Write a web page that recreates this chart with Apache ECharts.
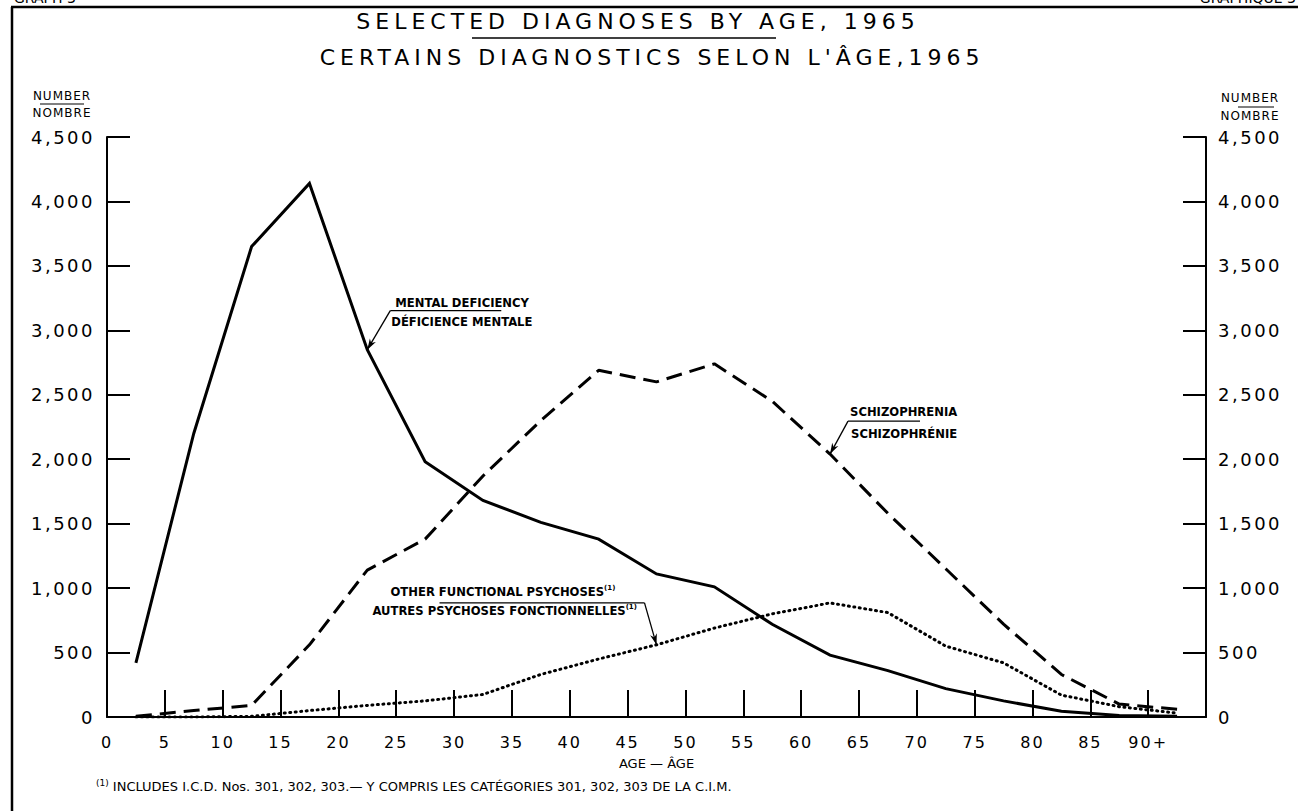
<!DOCTYPE html>
<html><head><meta charset="utf-8">
<script src="https://cdn.jsdelivr.net/npm/echarts@6/dist/echarts.min.js"></script>
<style>html,body{margin:0;padding:0;background:#fff}#c{width:1298px;height:811px}</style>
</head><body><div id="c"></div>
<script>
// ---- data ----
const ages = [2.5, 7.5, 12.5, 17.5, 22.5, 27.5, 32.5, 37.5, 42.5, 47.5, 52.5, 57.5, 62.5, 67.5, 72.5, 77.5, 82.5, 87.5, 92.5];
const mentalDeficiency = [420, 2200, 3650, 4140, 2850, 1980, 1680, 1510, 1380, 1110, 1010, 720, 480, 360, 220, 125, 45, 12, 5];
const schizophrenia = [5, 50, 90, 560, 1140, 1380, 1870, 2300, 2690, 2600, 2740, 2450, 2040, 1580, 1150, 720, 330, 100, 60];
const otherPsychoses = [0, 0, 5, 50, 90, 125, 175, 330, 450, 560, 690, 800, 885, 810, 550, 420, 170, 80, 30];
const xTickValues = [5, 10, 15, 20, 25, 30, 35, 40, 45, 50, 55, 60, 65, 70, 75, 80, 85, 90];
const xLabelValues = [0, 5, 10, 15, 20, 25, 30, 35, 40, 45, 50, 55, 60, 65, 70, 75, 80, 85, 90];
const xLabelText = ['0','5','10','15','20','25','30','35','40','45','50','55','60','65','70','75','80','85','90+'];
const yMin = 0, yMax = 4500, yStep = 500;

const titleLine1 = 'SELECTED DIAGNOSES BY AGE, 1965';
const titleLine2 = "CERTAINS DIAGNOSTICS SELON L'ÂGE,1965";
const labelMD = ['MENTAL DEFICIENCY', 'DÉFICIENCE MENTALE'];
const labelSZ = ['SCHIZOPHRENIA', 'SCHIZOPHRÉNIE'];
const labelOP = ['OTHER FUNCTIONAL PSYCHOSES', 'AUTRES PSYCHOSES FONCTIONNELLES'];
const footnote = ' INCLUDES I.C.D. Nos. 301, 302, 303.— Y COMPRIS LES CATÉGORIES 301, 302, 303 DE LA C.I.M.';

const FONT = 'DejaVu Sans';
const chart = echarts.init(document.getElementById('c'), null, {renderer: 'svg'});

const pair = arr => ages.map((a, i) => [a, arr[i]]);
const yFmt = v => v.toLocaleString('en-US');

const yAxisBase = {
  type: 'value', min: yMin, max: yMax, interval: yStep,
  axisLine: {show: true, lineStyle: {color: '#000', width: 2}},
  axisTick: {show: true, inside: true, length: 23, lineStyle: {color: '#000', width: 2}},
  axisLabel: {formatter: yFmt, color: '#000', fontSize: 18, fontFamily: FONT, margin: 12},
  splitLine: {show: false}
};

chart.setOption({
  animation: false,
  backgroundColor: '#fff',
  grid: {left: 107, right: 92, top: 137, bottom: 94},
  xAxis: {
    type: 'value', min: 0, max: 95, interval: 5,
    axisLine: {lineStyle: {color: '#000', width: 2}},
    axisTick: {show: true, inside: true, length: 27, customValues: xTickValues, lineStyle: {color: '#000', width: 2}},
    axisLabel: {customValues: xLabelValues, formatter: v => xLabelText[xLabelValues.indexOf(v)], color: '#000', fontSize: 16, fontFamily: FONT, margin: 17},
    splitLine: {show: false},
    name: 'AGE — ÂGE', nameLocation: 'middle', nameGap: 40,
    nameTextStyle: {color: '#000', fontSize: 13, fontFamily: FONT}
  },
  yAxis: [
    Object.assign({}, yAxisBase, {position: 'left'}),
    Object.assign({}, yAxisBase, {position: 'right'})
  ],
  series: [
    {name: 'Mental deficiency', type: 'line', data: pair(mentalDeficiency), showSymbol: false, yAxisIndex: 0,
     lineStyle: {color: '#000', width: 3, join: 'miter'}},
    {name: 'Schizophrenia', type: 'line', data: pair(schizophrenia), showSymbol: false, yAxisIndex: 0,
     lineStyle: {color: '#000', width: 3, type: [16, 8]}},
    {name: 'Other functional psychoses', type: 'line', data: pair(otherPsychoses), showSymbol: false, yAxisIndex: 0,
     lineStyle: {color: '#000', width: 3, type: [1, 4.5], cap: 'round'}}
  ]
});

function px(x, y) { return chart.convertToPixel({gridIndex: 0}, [x, y]); }

function arrowHead(tip, from) {
  const dx = tip[0] - from[0], dy = tip[1] - from[1];
  const L = Math.hypot(dx, dy), ux = dx / L, uy = dy / L;
  const nx = -uy, ny = ux, len = 11, hw = 3.5;
  return {type: 'polygon', shape: {points: [
    tip,
    [tip[0] - ux * len + nx * hw, tip[1] - uy * len + ny * hw],
    [tip[0] - ux * len * 0.7, tip[1] - uy * len * 0.7],
    [tip[0] - ux * len - nx * hw, tip[1] - uy * len - ny * hw]
  ]}, style: {fill: '#000'}};
}

function txt(x, y, text, size, align, extra) {
  return {type: 'text', x: x, y: y, style: Object.assign({text: text, fill: '#000', font: size + 'px "' + FONT + '"', align: align || 'left', verticalAlign: 'middle'}, extra || {})};
}
function hline(x1, x2, y, w) {
  return {type: 'line', shape: {x1: x1, y1: y, x2: x2, y2: y}, style: {stroke: '#000', lineWidth: w || 1}};
}

function annotation(tip, dx, dy, lineLeft, lineRight, t1, t2, t1x, t2x, t1dy, t2dy, sup) {
  const start = [tip[0] + dx, tip[1] + dy];
  const els = [];
  els.push({type: 'line', shape: {x1: start[0], y1: start[1], x2: tip[0], y2: tip[1]}, style: {stroke: '#000', lineWidth: 1.3}});
  els.push(arrowHead(tip, start));
  els.push(hline(lineLeft, lineRight, start[1], 1.3));
  const rich = {b: {font: 'bold 11.6px "' + FONT + '"', fill: '#000'}, s: {font: 'bold 7px "' + FONT + '"', fill: '#000', verticalAlign: 'top', lineHeight: 14}};
  els.push({type: 'text', x: t1x, y: start[1] + t1dy, style: {text: '{b|' + t1 + '}' + (sup ? '{s|(1)}' : ''), rich: rich, verticalAlign: 'middle', align: 'left'}});
  els.push({type: 'text', x: t2x, y: start[1] + t2dy, style: {text: '{b|' + t2 + '}' + (sup ? '{s|(1)}' : ''), rich: rich, verticalAlign: 'middle', align: 'left'}});
  return els;
}

const tMD = px(ages[4], mentalDeficiency[4]);
const tSZ = px(ages[12], schizophrenia[12]);
const tOP = px(ages[9], otherPsychoses[9]);

let g = [];
// frame
g.push({type: 'line', shape: {x1: 12, y1: 7, x2: 12, y2: 820}, style: {stroke: '#000', lineWidth: 2.5}});
g.push({type: 'line', shape: {x1: 11, y1: 7, x2: 1300, y2: 7}, style: {stroke: '#000', lineWidth: 2.5}});
g.push(txt(14, -2, 'GRAPH 3', 14, 'left'));
g.push(txt(1296, -2, 'GRAPHIQUE 3', 14, 'right'));
// title
g.push(txt(638, 21, titleLine1, 22, 'center'));
g.push(hline(472, 776, 38, 1.5));
g.push(txt(652, 57, titleLine2, 22, 'center'));
// axis unit labels
g.push(txt(62, 96, 'NUMBER', 12, 'center'));
g.push(hline(40, 84, 104, 1.2));
g.push(txt(62, 113, 'NOMBRE', 12, 'center'));
g.push(txt(1250, 98, 'NUMBER', 12, 'center'));
g.push(hline(1238, 1274, 107, 1.2));
g.push(txt(1250, 116, 'NOMBRE', 12, 'center'));
// annotations
g = g.concat(annotation(tMD, 23, -39, tMD[0] + 23, tMD[0] + 134, labelMD[0], labelMD[1], tMD[0] + 28, tMD[0] + 24, -8, 11, false));
g = g.concat(annotation(tSZ, 18, -33, tSZ[0] + 18, tSZ[0] + 90, labelSZ[0], labelSZ[1], tSZ[0] + 20, tSZ[0] + 21, -9, 13, false));
g = g.concat(annotation(tOP, -12, -42, tOP[0] - 217, tOP[0] - 12, labelOP[0], labelOP[1], tOP[0] - 266, tOP[0] - 284, -11, 8, true));
// footnote
g.push({type: 'text', x: 96, y: 786, style: {text: '{s|(1)}{b|' + footnote + '}', verticalAlign: 'middle', align: 'left',
  rich: {b: {font: '13px "' + FONT + '"', fill: '#000'}, s: {font: '9px "' + FONT + '"', fill: '#000', verticalAlign: 'top', lineHeight: 16}}}});

chart.setOption({graphic: {elements: g}});

// letter spacing only for single-run texts (title, axis labels, unit labels)
const SPACING = {22: 5, 18: 2.5, 16: 2, 12: 1};
function spacing() {
  document.querySelectorAll('#c svg text').forEach(t => {
    const fs = Math.round(parseFloat(getComputedStyle(t).fontSize) * 10) / 10;
    t.style.letterSpacing = (SPACING[fs] || 0) + 'px';
  });
}
chart.on('finished', spacing);
spacing();
setTimeout(spacing, 50);
</script></body></html>
